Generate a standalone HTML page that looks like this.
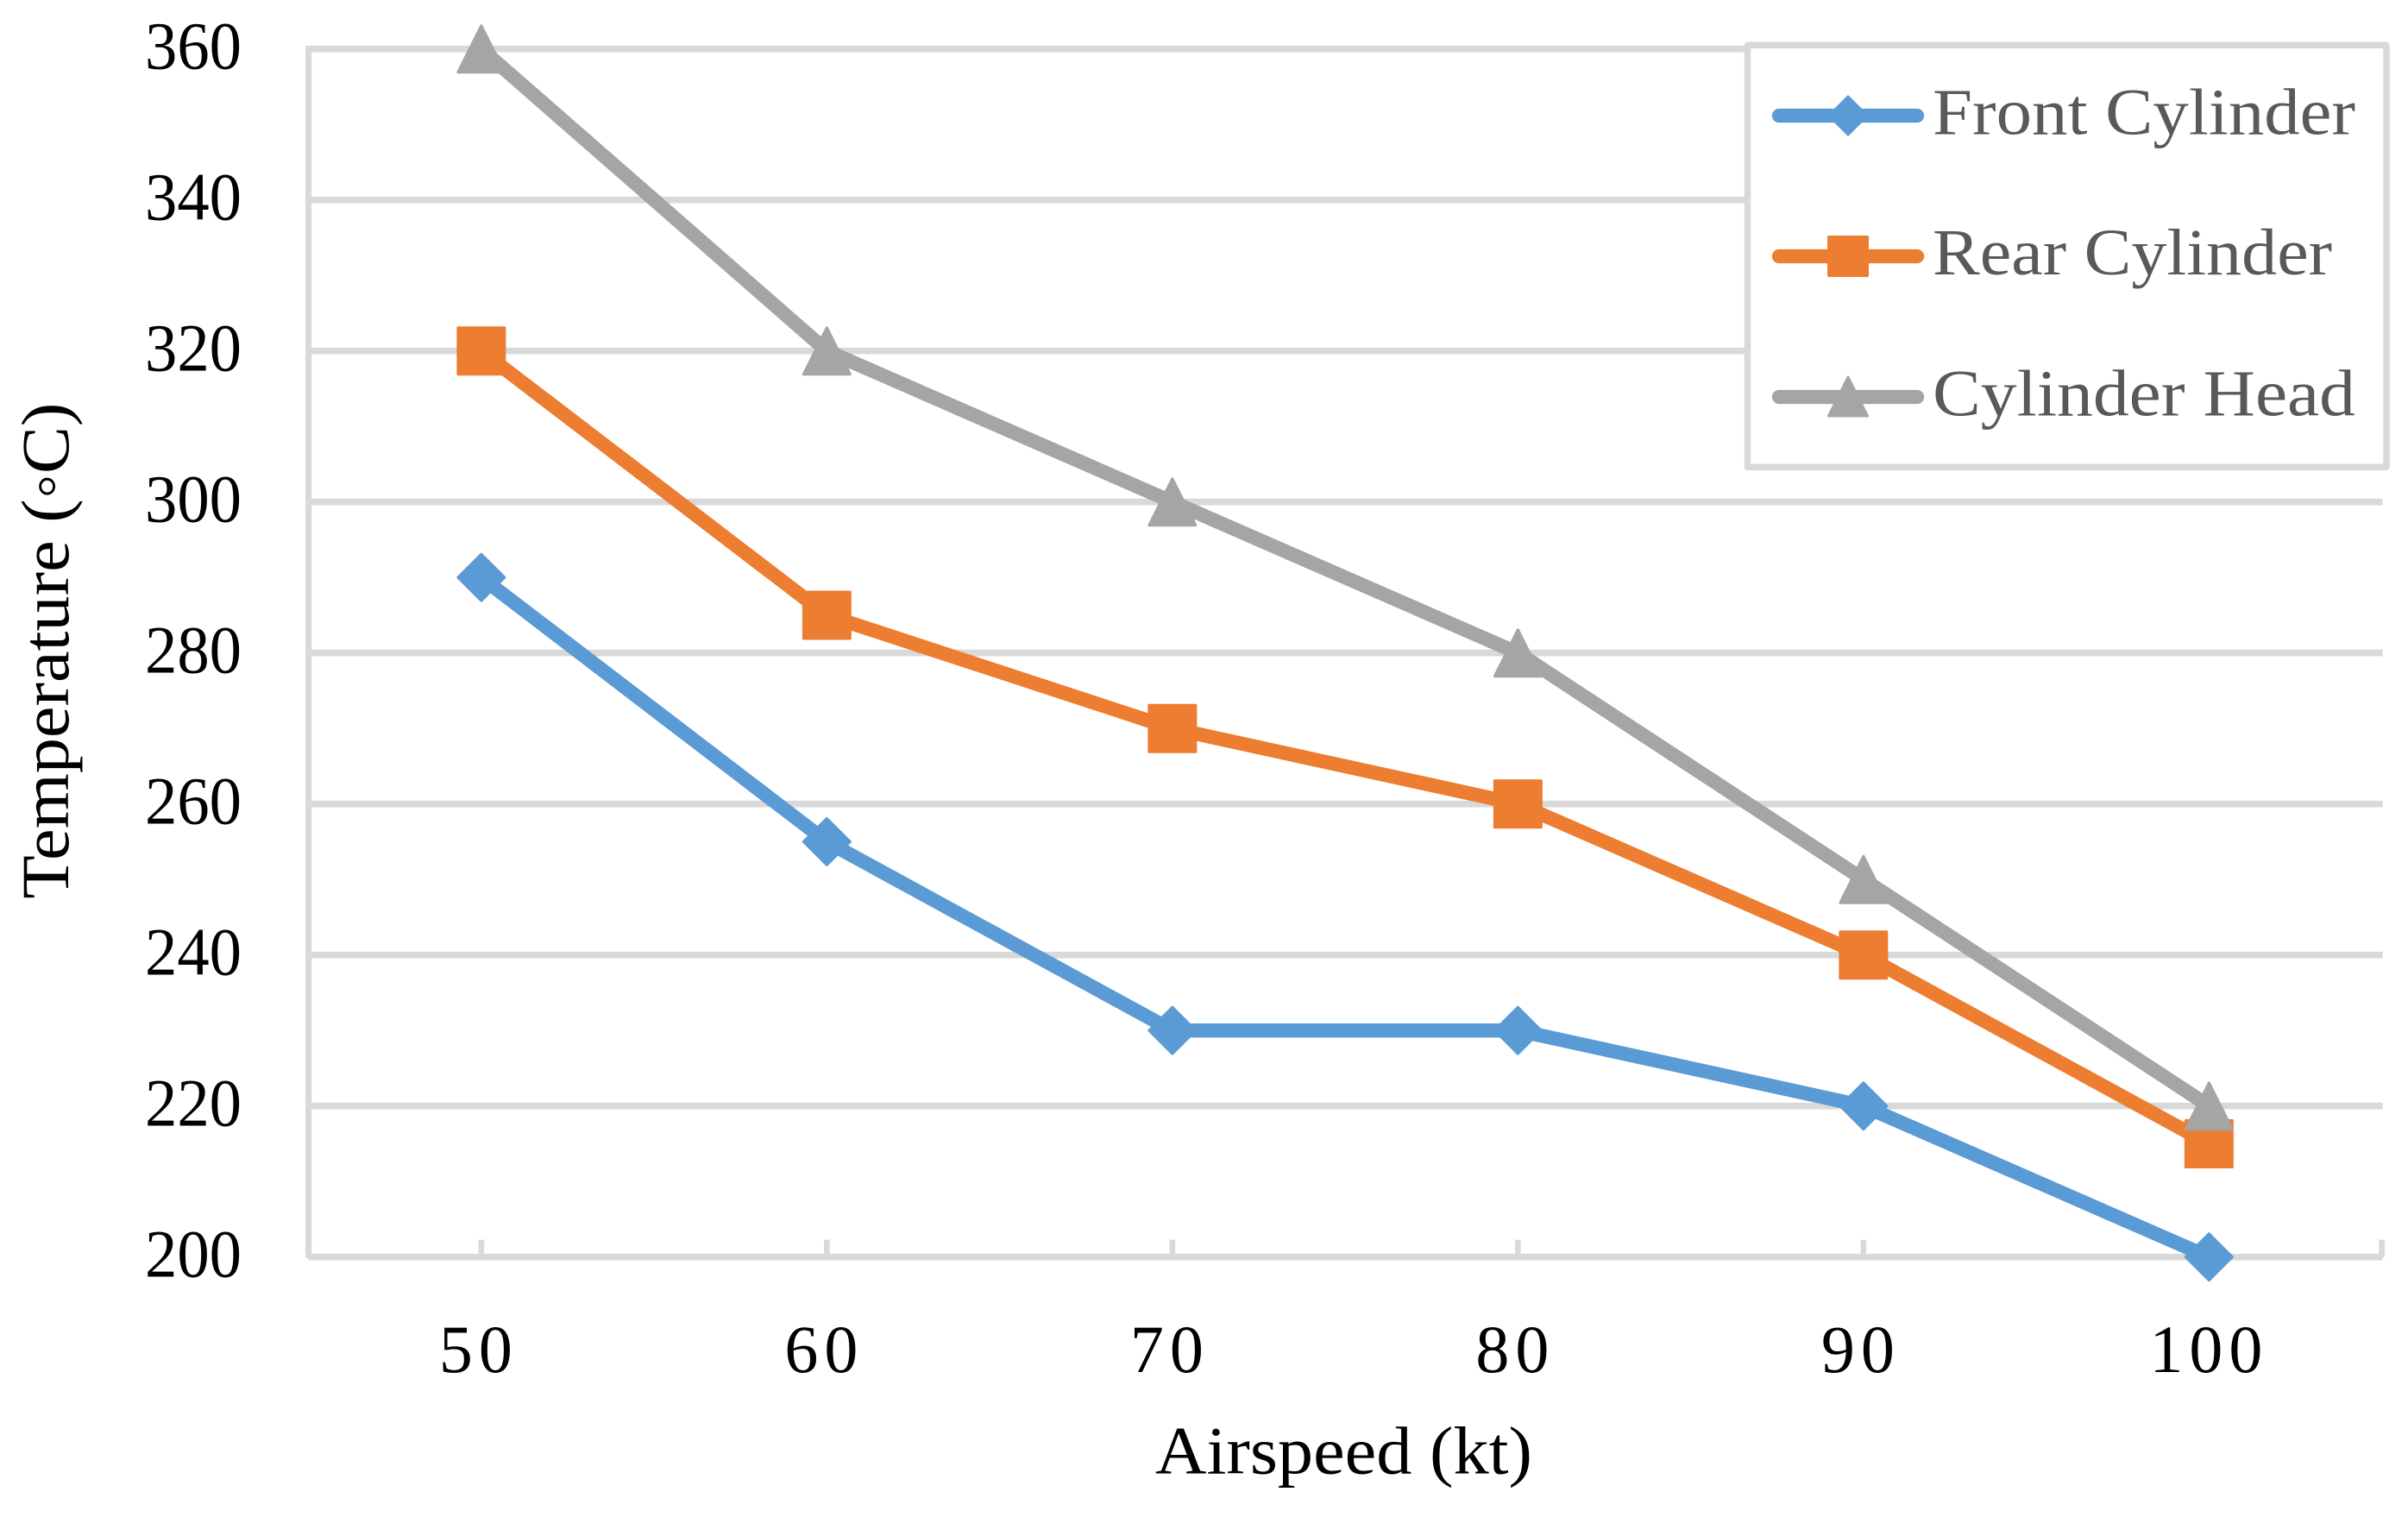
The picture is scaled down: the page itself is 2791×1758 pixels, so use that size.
<!DOCTYPE html>
<html lang="en">
<head>
<meta charset="utf-8">
<title>Temperature vs Airspeed</title>
<style>
html,body{margin:0;padding:0;background:#fff;}
svg{display:block;font-family:"Liberation Serif",serif;}
</style>
</head>
<body>
<svg id="chart" xmlns="http://www.w3.org/2000/svg" width="2791" height="1758" viewBox="0 0 2791 1758">
  <rect width="2791" height="1758" fill="#ffffff"/>
  <g id="grid"></g>
  <g id="axes"></g>
  <g id="series"></g>
  <text x="1339" y="1707.5" font-size="78" fill="#000" textLength="437" lengthAdjust="spacingAndGlyphs">Airspeed (kt)</text>
  <text x="0" y="0" font-size="78" fill="#000" textLength="575" lengthAdjust="spacingAndGlyphs" transform="translate(79 1041.6) rotate(-90)">Temperature (◦C)</text>
  <g>
    <rect x="2025.5" y="52.4" width="740.5" height="489" fill="#ffffff" stroke="#D9D9D9" stroke-width="7.5" stroke-linejoin="round"/>
    <g>
      <line x1="2062" y1="134" x2="2222" y2="134" stroke="#5B9BD5" stroke-width="16.3" stroke-linecap="round"/>
      <polygon points="2142,112 2164,134 2142,156 2120,134" fill="#5B9BD5" stroke="#5B9BD5" stroke-width="3" stroke-linejoin="round"/>
      <text x="2240" y="155.4" font-size="76.5" fill="#595959" textLength="490" lengthAdjust="spacingAndGlyphs">Front Cylinder</text>
    </g>
    <g>
      <line x1="2062" y1="297" x2="2222" y2="297" stroke="#ED7D31" stroke-width="16.3" stroke-linecap="round"/>
      <rect x="2119.5" y="274.5" width="45" height="45" fill="#ED7D31" stroke="#ED7D31" stroke-width="3" stroke-linejoin="round"/>
      <text x="2240" y="318" font-size="76.5" fill="#595959" textLength="463" lengthAdjust="spacingAndGlyphs">Rear Cylinder</text>
    </g>
    <g>
      <line x1="2062" y1="460" x2="2222" y2="460" stroke="#A5A5A5" stroke-width="16.3" stroke-linecap="round"/>
      <polygon points="2142,437 2164.5,482 2119.5,482" fill="#A5A5A5" stroke="#A5A5A5" stroke-width="3" stroke-linejoin="round"/>
      <text x="2240" y="481.7" font-size="76.5" fill="#595959" textLength="490" lengthAdjust="spacingAndGlyphs">Cylinder Head</text>
    </g>
  </g>
</svg>
<script>
const airspeeds = [50, 60, 70, 80, 90, 100];
const frontCylinder = [290, 255, 230, 230, 220, 200];
const rearCylinder = [320, 285, 270, 260, 240, 215];
const cylinderHead = [360, 320, 300, 280, 250, 220];
const yTickLabels = [200, 220, 240, 260, 280, 300, 320, 340, 360];
const xTickLabels = ["50", "60", "70", "80", "90", "100"];
const xExtraTicks = [105];

const NS = "http://www.w3.org/2000/svg";
const xMin = 45, xMax = 105, yMin = 200, yMax = 360;
const plotLeft = 357.6, plotRight = 2760.6, plotTop = 56.7, plotBottom = 1456.7;
function sx(v) { return plotLeft + (v - xMin) / (xMax - xMin) * (plotRight - plotLeft); }
function sy(v) { return plotBottom - (v - yMin) / (yMax - yMin) * (plotBottom - plotTop); }
function make(tag, attrs, parent) {
  const el = document.createElementNS(NS, tag);
  for (const k in attrs) el.setAttribute(k, attrs[k]);
  parent.appendChild(el);
  return el;
}
const gridG = document.getElementById("grid");
const axesG = document.getElementById("axes");
const seriesG = document.getElementById("series");

yTickLabels.forEach(function (v) {
  const grid = make("line", {x1: plotLeft, x2: plotRight + 1, y1: sy(v), y2: sy(v), stroke: "#D9D9D9", "stroke-width": 7.6}, gridG);
  
  
  const label = make("text", {x: 168, y: sy(v) + 22.7, "font-size": 78, fill: "#000", textLength: 112, lengthAdjust: "spacingAndGlyphs"}, axesG);
  
  
  label.textContent = String(v);
});

const yAxis = make("line", {x1: plotLeft, x2: plotLeft, y1: plotTop - 3.8, y2: plotBottom + 1, stroke: "#D9D9D9", "stroke-width": 7.2}, axesG);



airspeeds.concat(xExtraTicks).forEach(function (v) {
  const tick = make("line", {x1: sx(v), x2: sx(v), y1: plotBottom - 20, y2: plotBottom, stroke: "#D9D9D9", "stroke-width": 6.6}, axesG);
  
  
});

xTickLabels.forEach(function (t, i) {
  const nudge = t.length === 2 ? -3 : 0;
  const label = make("text", {x: sx(airspeeds[i]) + nudge, y: 1590, "text-anchor": "middle", "font-size": 78, "letter-spacing": 7, fill: "#000"}, axesG);
  
  
  label.textContent = t;
});

function drawSeries(name, values, color, shape) {
  const g = make("g", {}, seriesG);
  
  
  const pts = values.map(function (v, i) { return sx(airspeeds[i]) + "," + sy(v); }).join(" ");
  const line = make("polyline", {points: pts, fill: "none", stroke: color, "stroke-width": 16.3, "stroke-linejoin": "round", "stroke-linecap": "round"}, g);
  
  
  values.forEach(function (v, i) {
    const cx = sx(airspeeds[i]), cy = sy(v), h = 27;
    let mark;
    const style = {fill: color, stroke: color, "stroke-width": 3, "stroke-linejoin": "round"};
    if (shape === "diamond") {
      mark = make("polygon", Object.assign({points: cx + "," + (cy - h) + " " + (cx + h) + "," + cy + " " + cx + "," + (cy + h) + " " + (cx - h) + "," + cy}, style), g);
    } else if (shape === "square") {
      mark = make("rect", Object.assign({x: cx - h, y: cy - h, width: 2 * h, height: 2 * h}, style), g);
    } else {
      mark = make("polygon", Object.assign({points: cx + "," + (cy - h) + " " + (cx + h) + "," + (cy + h) + " " + (cx - h) + "," + (cy + h)}, style), g);
    }
    
    
  });
}
drawSeries("front-cylinder", frontCylinder, "#5B9BD5", "diamond");
drawSeries("rear-cylinder", rearCylinder, "#ED7D31", "square");
drawSeries("cylinder-head", cylinderHead, "#A5A5A5", "triangle");
</script>
</body>
</html>
